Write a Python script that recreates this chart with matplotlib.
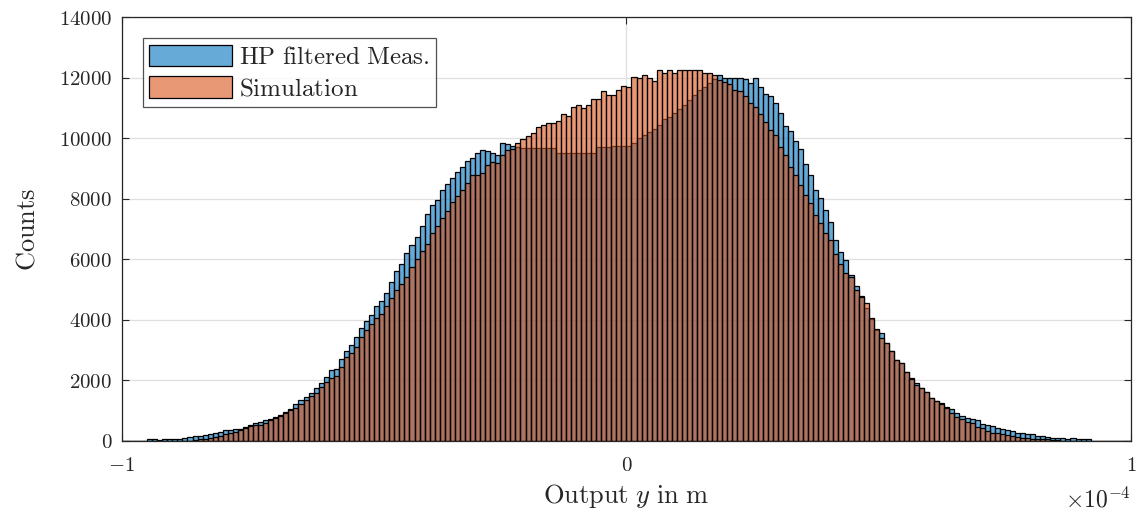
import numpy as np
from matplotlib import pyplot as plt
from matplotlib.patches import Patch

# bin counts, 200 bins of equal width over [-1e-4, 1e-4]
meas_counts = [
    0, 0, 0, 0, 0, 70, 70, 20, 50, 50,
    55, 80, 110, 120, 165, 165, 190, 230, 260, 300,
    363, 370, 407, 410, 460, 540, 580, 640, 690, 720,
    790, 860, 960, 1060, 1220, 1340, 1460, 1590, 1740, 1920,
    2100, 2340, 2390, 2720, 2980, 3180, 3440, 3720, 3950, 4150,
    4450, 4620, 4900, 5250, 5600, 5850, 6200, 6480, 6750, 7100,
    7500, 7800, 7950, 8280, 8480, 8700, 8900, 9050, 9250, 9340,
    9500, 9610, 9590, 9500, 9450, 9830, 9810, 9740, 9700, 9690,
    9690, 9690, 9690, 9690, 9690, 9690, 9520, 9500, 9500, 9500,
    9500, 9500, 9520, 9520, 9700, 9720, 9720, 9730, 9740, 9730,
    9760, 9840, 10000, 10100, 10210, 10300, 10430, 10620, 10700, 10850,
    10950, 11100, 11250, 11420, 11600, 11700, 11810, 11950, 12085, 11975,
    11975, 11975, 11975, 11950, 11810, 11975, 11700, 11450, 11390, 11170,
    10840, 10400, 10250, 9920, 9630, 9150, 8780, 8290, 8010, 7630,
    7240, 6640, 6250, 5980, 5480, 5120, 4790, 4380, 4030, 3680,
    3550, 3220, 2970, 2690, 2560, 2275, 2090, 1900, 1760, 1615,
    1430, 1320, 1240, 1130, 1045, 935, 825, 770, 715, 690,
    550, 515, 495, 440, 405, 360, 330, 275, 275, 220,
    220, 165, 165, 140, 110, 110, 110, 77, 110, 77,
    55, 55, 0, 0, 0, 0, 0, 0, 0, 0,
]
sim_counts = [
    0, 0, 0, 0, 0, 0, 0, 0, 0, 0,
    0, 0, 0, 0, 30, 55, 55, 90, 130, 160,
    220, 270, 310, 370, 430, 480, 540, 540, 600, 680,
    760, 820, 920, 1010, 1090, 1220, 1350, 1470, 1600, 1790,
    1960, 2080, 2140, 2450, 2780, 2900, 3120, 3440, 3660, 3880,
    4050, 4200, 4460, 4730, 5000, 5200, 5420, 5750, 6000, 6260,
    6510, 6870, 7090, 7360, 7610, 7900, 8100, 8300, 8520, 8780,
    8780, 8840, 9110, 9220, 9170, 9440, 9610, 9660, 9830, 9990,
    10070, 10160, 10360, 10430, 10490, 10510, 10580, 10800, 10730, 11020,
    11090, 10990, 11090, 11280, 11310, 11570, 11430, 11430, 11610, 11720,
    11680, 12010, 11975, 12085, 11975, 11900, 12270, 12140, 12270, 12160,
    12270, 12270, 12270, 12250, 12250, 12160, 12160, 12085, 11920, 11860,
    11790, 11590, 11570, 11390, 11150, 11020, 10800, 10540, 10270, 10100,
    9700, 9440, 9060, 8780, 8450, 8120, 7850, 7460, 7190, 6880,
    6640, 6170, 5840, 5540, 5430, 4990, 4770, 4550, 4050, 3690,
    3400, 3220, 2970, 2690, 2560, 2275, 2055, 1835, 1760, 1615,
    1430, 1320, 1210, 1100, 935, 800, 735, 625, 580, 470,
    440, 330, 275, 275, 220, 185, 165, 140, 110, 110,
    77, 77, 55, 55, 33, 20, 0, 0, 0, 0,
    0, 0, 0, 0, 0, 0, 0, 0, 0, 0,
]
labels = [r'$\mathrm{HP\ filtered\ Meas.}$', r'$\mathrm{Simulation}$']
y_ticks = [0, 2000, 4000, 6000, 8000, 10000, 12000, 14000]
x_ticks = [-1e-4, 0, 1e-4]
x_tick_labels = [r'$-1$', r'$0$', r'$1$']

plt.rcParams['mathtext.fontset'] = 'cm'
plt.rcParams['font.family'] = 'serif'

blue = (0.0, 0.447, 0.741, 0.6)
orange = (0.850, 0.325, 0.098, 0.6)
ink = '#262626'

edges = np.linspace(-1e-4, 1e-4, len(meas_counts) + 1)
width = edges[1] - edges[0]

fig = plt.figure(figsize=(11.39, 5.2), dpi=100)
ax = fig.add_axes([0.107, 0.152, 0.886, 0.815])

ax.bar(edges[:-1], meas_counts, width=width, align='edge',
       facecolor=blue, edgecolor='black', linewidth=0.9)
ax.bar(edges[:-1], sim_counts, width=width, align='edge',
       facecolor=orange, edgecolor='black', linewidth=0.9)

ax.set_xlim(-1e-4, 1e-4)
ax.set_ylim(0, 14000)
ax.set_xticks(x_ticks)
ax.set_xticklabels(x_tick_labels)
ax.set_yticks(y_ticks)
ax.set_yticklabels([r'$%d$' % v for v in y_ticks])
ax.tick_params(direction='in', length=5, width=0.8, colors=ink,
               labelsize=15, top=True, right=True, pad=7)
ax.tick_params(axis='x', pad=11)
for s in ax.spines.values():
    s.set_color(ink)
    s.set_linewidth(0.9)

ax.set_axisbelow(True)
ax.grid(True, color='#dfdfdf', linewidth=0.9)

ax.set_ylabel(r'$\mathrm{Counts}$', fontsize=19, color=ink, labelpad=14)
ax.set_xlabel(r'$\mathrm{Output}\ y\ \mathrm{in\ m}$', fontsize=19,
              color=ink, labelpad=5)
ax.text(1.0, -0.14, r'$\times10^{-4}$', transform=ax.transAxes,
        ha='right', va='center', fontsize=17, color=ink)

handles = [Patch(facecolor=blue, edgecolor='black', linewidth=0.9),
           Patch(facecolor=orange, edgecolor='black', linewidth=0.9)]
leg = ax.legend(handles, labels,
                loc='upper left', bbox_to_anchor=(0.0208, 0.950),
                borderaxespad=0, fancybox=False, fontsize=18,
                handlelength=3.3, handleheight=0.95, handletextpad=0.3,
                labelspacing=0.3, borderpad=0.25)
leg.get_frame().set_edgecolor(ink)
leg.get_frame().set_linewidth(0.9)
for t in leg.get_texts():
    t.set_color(ink)

fig.savefig('out.png', dpi=100)
